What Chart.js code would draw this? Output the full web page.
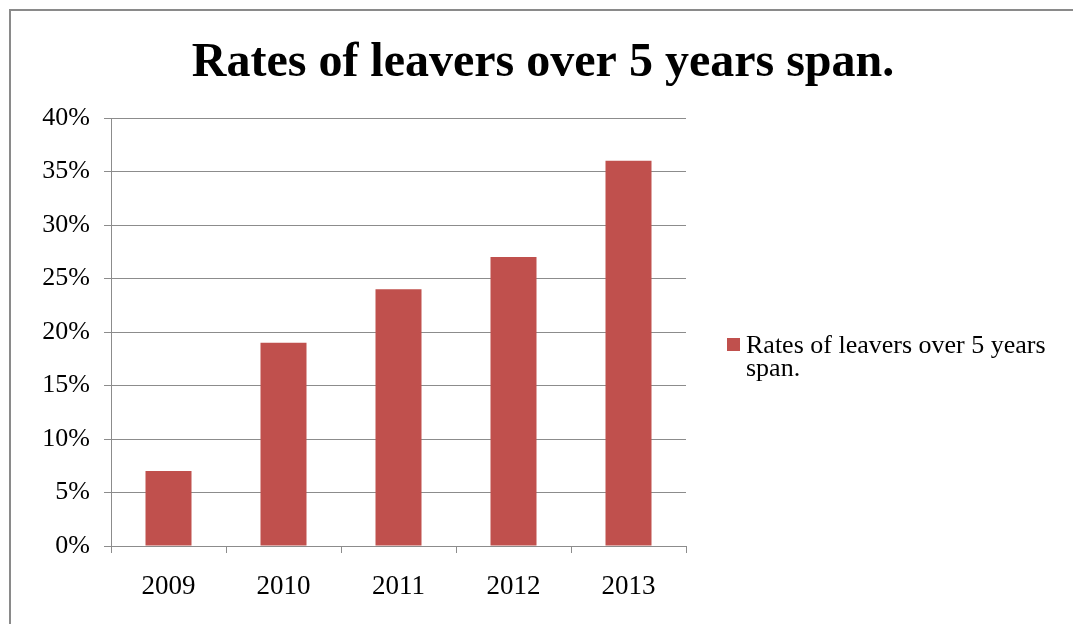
<!DOCTYPE html>
<html>
<head>
<meta charset="utf-8">
<title>Rates of leavers</title>
<script src="https://cdn.jsdelivr.net/npm/chart.js@4"></script>
<style>
  html, body { margin: 0; padding: 0; background: #fff; }
  #wrap { position: relative; width: 1073px; height: 624px; overflow: hidden; }
  #frame {
    position: absolute; left: 9px; top: 9px; width: 1100px; height: 650px;
    border-left: 2px solid #8a8a8a; border-top: 2px solid #8a8a8a;
  }
  #myChart { position: absolute; left: 0; top: 0; }
</style>
</head>
<body>
<div id="wrap">
  <div id="frame"></div>
  <canvas id="myChart" width="1073" height="624"></canvas>
</div>
<script>
const years = ["2009", "2010", "2011", "2012", "2013"];
const leaverRates = [7, 19, 24, 27, 36];
const seriesName = "Rates of leavers over 5 years span.";
const legendLines = ["Rates of leavers over 5 years", "span."];
const barColor = "#C0504D";
const gridColor = "#8c8c8c";
const serif = "'Liberation Serif', 'Times New Roman', serif";

// title centred on the whole frame, legend wrapped over two lines on the right
const frameText = {
  id: "frameText",
  afterDraw(chart) {
    const ctx = chart.ctx;
    const ds = chart.data.datasets[0];
    ctx.save();
    ctx.fillStyle = "#000";
    ctx.font = "bold 48px " + serif;
    ctx.textAlign = "center";
    ctx.textBaseline = "alphabetic";
    ctx.fillText(seriesName, 543, 76);

    ctx.fillStyle = ds.backgroundColor;
    ctx.fillRect(727, 338, 13, 13);
    ctx.fillStyle = "#000";
    ctx.font = "26px " + serif;
    ctx.textAlign = "left";
    legendLines.forEach((line, i) => ctx.fillText(line, 746, 353 + i * 23));
    ctx.restore();
  }
};

const ctx = document.getElementById("myChart");
new Chart(ctx, {
  type: "bar",
  data: {
    labels: years,
    datasets: [
      {
        label: seriesName,
        data: leaverRates,
        backgroundColor: barColor,
        borderWidth: 0,
        barPercentage: 0.4,
        categoryPercentage: 1,
      },
    ],
  },
  options: {
    responsive: false,
    animation: false,
    layout: { padding: { left: 0, right: 387, top: 118, bottom: 0 } },
    plugins: {
      legend: { display: false },
      tooltip: { enabled: false },
      title: { display: false },
    },
    scales: {
      x: {
        grid: {
          offset: true,
          drawOnChartArea: false,
          drawTicks: true,
          tickLength: 7,
          color: gridColor,
        },
        border: { display: true, color: gridColor },
        ticks: {
          color: "#000",
          font: { family: serif, size: 27 },
          padding: 18,
          maxRotation: 0,
        },
        afterFit(scale) {
          scale.height = 78;
        },
      },
      y: {
        min: 0,
        max: 40,
        grid: { color: gridColor, tickLength: 7 },
        border: { display: true, color: gridColor },
        ticks: {
          stepSize: 5,
          color: "#000",
          font: { family: serif, size: 26 },
          padding: 14,
          callback: (v) => v + "%",
        },
        afterFit(scale) {
          scale.width = 111;
        },
      },
    },
  },
  plugins: [frameText],
});
</script>
</body>
</html>
